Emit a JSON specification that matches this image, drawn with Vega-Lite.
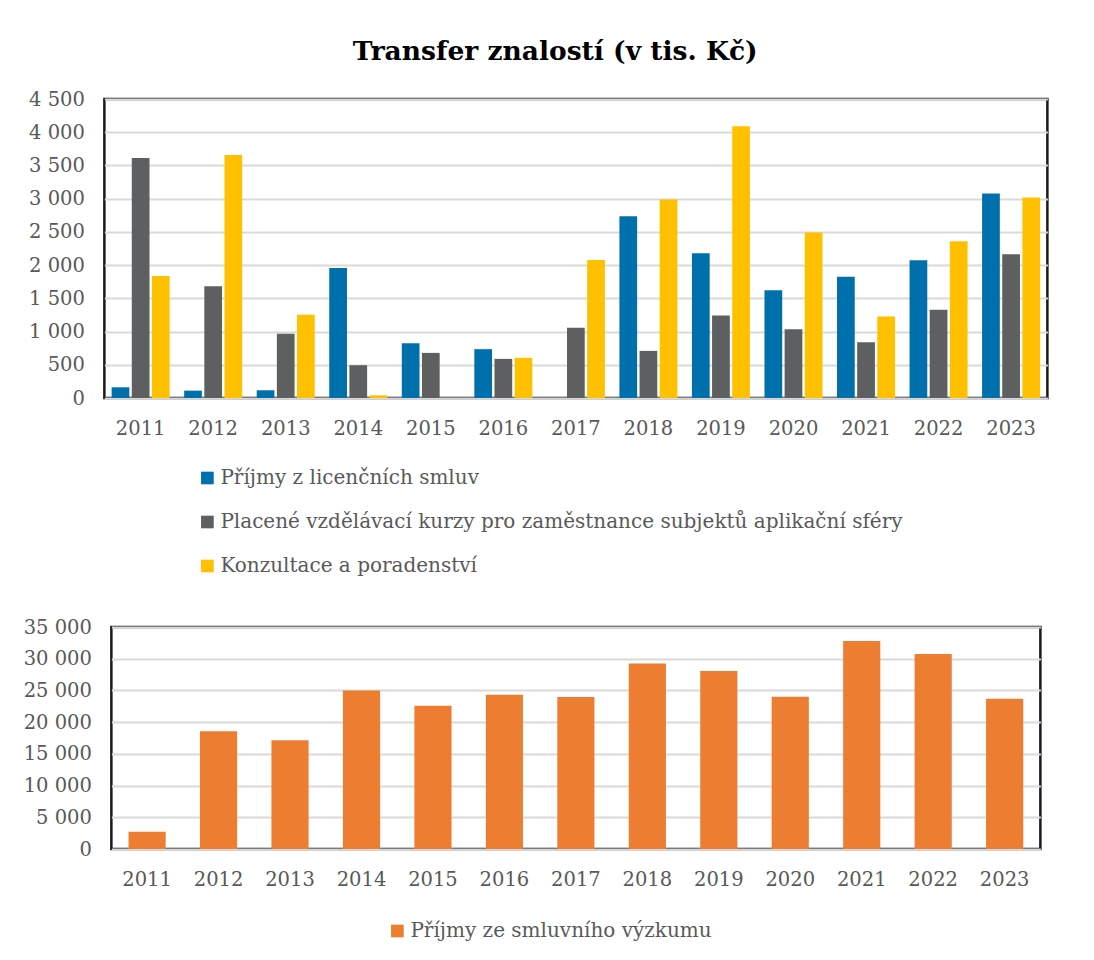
{
  "$schema": "https://vega.github.io/schema/vega-lite/v6.json",
  "background": "white",
  "padding": {"left": 21, "top": 39, "right": 0, "bottom": 0},
  "title": {"text": "Transfer znalostí (v tis. Kč)", "fontSize": 26.5, "fontWeight": "bold", "font": "DejaVu Serif", "color": "#000000", "anchor": "middle", "offset": 22, "dx": 20},
  "config": {
    "font": "DejaVu Serif",
    "view": {"stroke": "#1a1a1a", "strokeWidth": 2.5},
    "axis": {"labelFont": "DejaVu Serif", "labelFontSize": 19.5, "labelColor": "#595959", "ticks": false, "domain": false, "gridColor": "#D9D9D9", "gridWidth": 2},
    "legend": {"labelFont": "DejaVu Serif", "labelFontSize": 20, "labelColor": "#595959", "symbolType": "square", "symbolSize": 160, "symbolStrokeWidth": 0, "labelOffset": 3, "rowPadding": 24, "labelLimit": 1000}
  },
  "columns": 1,
  "center": true,
  "spacing": 37,
  "resolve": {"scale": {"color": "independent", "x": "independent", "y": "independent"}, "legend": {"color": "independent"}},
  "concat": [
    {
      "width": 943,
      "height": 299,
      "data": {"values": [
        {"year": "2011", "series": "Příjmy z licenčních smluv", "value": 161},
        {"year": "2011", "series": "Placené vzdělávací kurzy pro zaměstnance subjektů aplikační sféry", "value": 3613},
        {"year": "2011", "series": "Konzultace a poradenství", "value": 1836},
        {"year": "2012", "series": "Příjmy z licenčních smluv", "value": 111},
        {"year": "2012", "series": "Placené vzdělávací kurzy pro zaměstnance subjektů aplikační sféry", "value": 1680},
        {"year": "2012", "series": "Konzultace a poradenství", "value": 3658},
        {"year": "2013", "series": "Příjmy z licenčních smluv", "value": 116},
        {"year": "2013", "series": "Placené vzdělávací kurzy pro zaměstnance subjektů aplikační sféry", "value": 966},
        {"year": "2013", "series": "Konzultace a poradenství", "value": 1253},
        {"year": "2014", "series": "Příjmy z licenčních smluv", "value": 1957},
        {"year": "2014", "series": "Placené vzdělávací kurzy pro zaměstnance subjektů aplikační sféry", "value": 493},
        {"year": "2014", "series": "Konzultace a poradenství", "value": 40},
        {"year": "2015", "series": "Příjmy z licenčních smluv", "value": 825},
        {"year": "2015", "series": "Placené vzdělávací kurzy pro zaměstnance subjektů aplikační sféry", "value": 679},
        {"year": "2015", "series": "Konzultace a poradenství", "value": 0},
        {"year": "2016", "series": "Příjmy z licenčních smluv", "value": 735},
        {"year": "2016", "series": "Placené vzdělávací kurzy pro zaměstnance subjektů aplikační sféry", "value": 589},
        {"year": "2016", "series": "Konzultace a poradenství", "value": 604},
        {"year": "2017", "series": "Příjmy z licenčních smluv", "value": 0},
        {"year": "2017", "series": "Placené vzdělávací kurzy pro zaměstnance subjektů aplikační sféry", "value": 1057},
        {"year": "2017", "series": "Konzultace a poradenství", "value": 2078},
        {"year": "2018", "series": "Příjmy z licenčních smluv", "value": 2737},
        {"year": "2018", "series": "Placené vzdělávací kurzy pro zaměstnance subjektů aplikační sféry", "value": 709},
        {"year": "2018", "series": "Konzultace a poradenství", "value": 2989},
        {"year": "2019", "series": "Příjmy z licenčních smluv", "value": 2179},
        {"year": "2019", "series": "Placené vzdělávací kurzy pro zaměstnance subjektů aplikační sféry", "value": 1243},
        {"year": "2019", "series": "Konzultace a poradenství", "value": 4091},
        {"year": "2020", "series": "Příjmy z licenčních smluv", "value": 1620},
        {"year": "2020", "series": "Placené vzdělávací kurzy pro zaměstnance subjektů aplikační sféry", "value": 1036},
        {"year": "2020", "series": "Konzultace a poradenství", "value": 2491},
        {"year": "2021", "series": "Příjmy z licenčních smluv", "value": 1826},
        {"year": "2021", "series": "Placené vzdělávací kurzy pro zaměstnance subjektů aplikační sféry", "value": 840},
        {"year": "2021", "series": "Konzultace a poradenství", "value": 1228},
        {"year": "2022", "series": "Příjmy z licenčních smluv", "value": 2073},
        {"year": "2022", "series": "Placené vzdělávací kurzy pro zaměstnance subjektů aplikační sféry", "value": 1328},
        {"year": "2022", "series": "Konzultace a poradenství", "value": 2360},
        {"year": "2023", "series": "Příjmy z licenčních smluv", "value": 3079},
        {"year": "2023", "series": "Placené vzdělávací kurzy pro zaměstnance subjektů aplikační sféry", "value": 2164},
        {"year": "2023", "series": "Konzultace a poradenství", "value": 3019}
      ]},
      "mark": {"type": "bar"},
      "encoding": {
        "x": {"field": "year", "type": "nominal", "title": null, "scale": {"paddingInner": 0.2, "paddingOuter": 0.1}, "axis": {"labelAngle": 0, "labelPadding": 21, "grid": false}},
        "xOffset": {"field": "series", "type": "nominal", "sort": ["Příjmy z licenčních smluv", "Placené vzdělávací kurzy pro zaměstnance subjektů aplikační sféry", "Konzultace a poradenství"], "scale": {"paddingInner": 0.12}},
        "y": {"field": "value", "type": "quantitative", "title": null, "scale": {"domain": [0, 4500], "nice": false}, "axis": {"values": [0, 500, 1000, 1500, 2000, 2500, 3000, 3500, 4000, 4500], "labelExpr": "replace(format(datum.value, ','), ',', ' ')", "labelPadding": 20, "grid": true}},
        "color": {"field": "series", "type": "nominal", "sort": ["Příjmy z licenčních smluv", "Placené vzdělávací kurzy pro zaměstnance subjektů aplikační sféry", "Konzultace a poradenství"], "scale": {"domain": ["Příjmy z licenčních smluv", "Placené vzdělávací kurzy pro zaměstnance subjektů aplikační sféry", "Konzultace a poradenství"], "range": ["#0070AC", "#5E5F61", "#FFC000"]}, "legend": {"orient": "none", "legendX": 93, "legendY": 369, "direction": "vertical", "title": null}}
      }
    },
    {
      "width": 929,
      "height": 222,
      "data": {"values": [
        {"year": "2011", "series": "Příjmy ze smluvního výzkumu", "value": 2737},
        {"year": "2012", "series": "Příjmy ze smluvního výzkumu", "value": 18579},
        {"year": "2013", "series": "Příjmy ze smluvního výzkumu", "value": 17158},
        {"year": "2014", "series": "Příjmy ze smluvního výzkumu", "value": 25000},
        {"year": "2015", "series": "Příjmy ze smluvního výzkumu", "value": 22579},
        {"year": "2016", "series": "Příjmy ze smluvního výzkumu", "value": 24316},
        {"year": "2017", "series": "Příjmy ze smluvního výzkumu", "value": 23947},
        {"year": "2018", "series": "Příjmy ze smluvního výzkumu", "value": 29263},
        {"year": "2019", "series": "Příjmy ze smluvního výzkumu", "value": 28053},
        {"year": "2020", "series": "Příjmy ze smluvního výzkumu", "value": 24000},
        {"year": "2021", "series": "Příjmy ze smluvního výzkumu", "value": 32789},
        {"year": "2022", "series": "Příjmy ze smluvního výzkumu", "value": 30737},
        {"year": "2023", "series": "Příjmy ze smluvního výzkumu", "value": 23684}
      ]},
      "mark": {"type": "bar"},
      "encoding": {
        "x": {"field": "year", "type": "nominal", "title": null, "scale": {"paddingInner": 0.48, "paddingOuter": 0.24}, "axis": {"labelAngle": 0, "labelPadding": 21, "grid": false}},
        "y": {"field": "value", "type": "quantitative", "title": null, "scale": {"domain": [0, 35000], "nice": false}, "axis": {"values": [0, 5000, 10000, 15000, 20000, 25000, 30000, 35000], "labelExpr": "replace(format(datum.value, ','), ',', ' ')", "labelPadding": 20, "grid": true}},
        "color": {"field": "series", "type": "nominal", "scale": {"domain": ["Příjmy ze smluvního výzkumu"], "range": ["#ED7D31"]}, "legend": {"orient": "none", "legendX": 276, "legendY": 294, "direction": "vertical", "title": null}}
      }
    }
  ]
}
